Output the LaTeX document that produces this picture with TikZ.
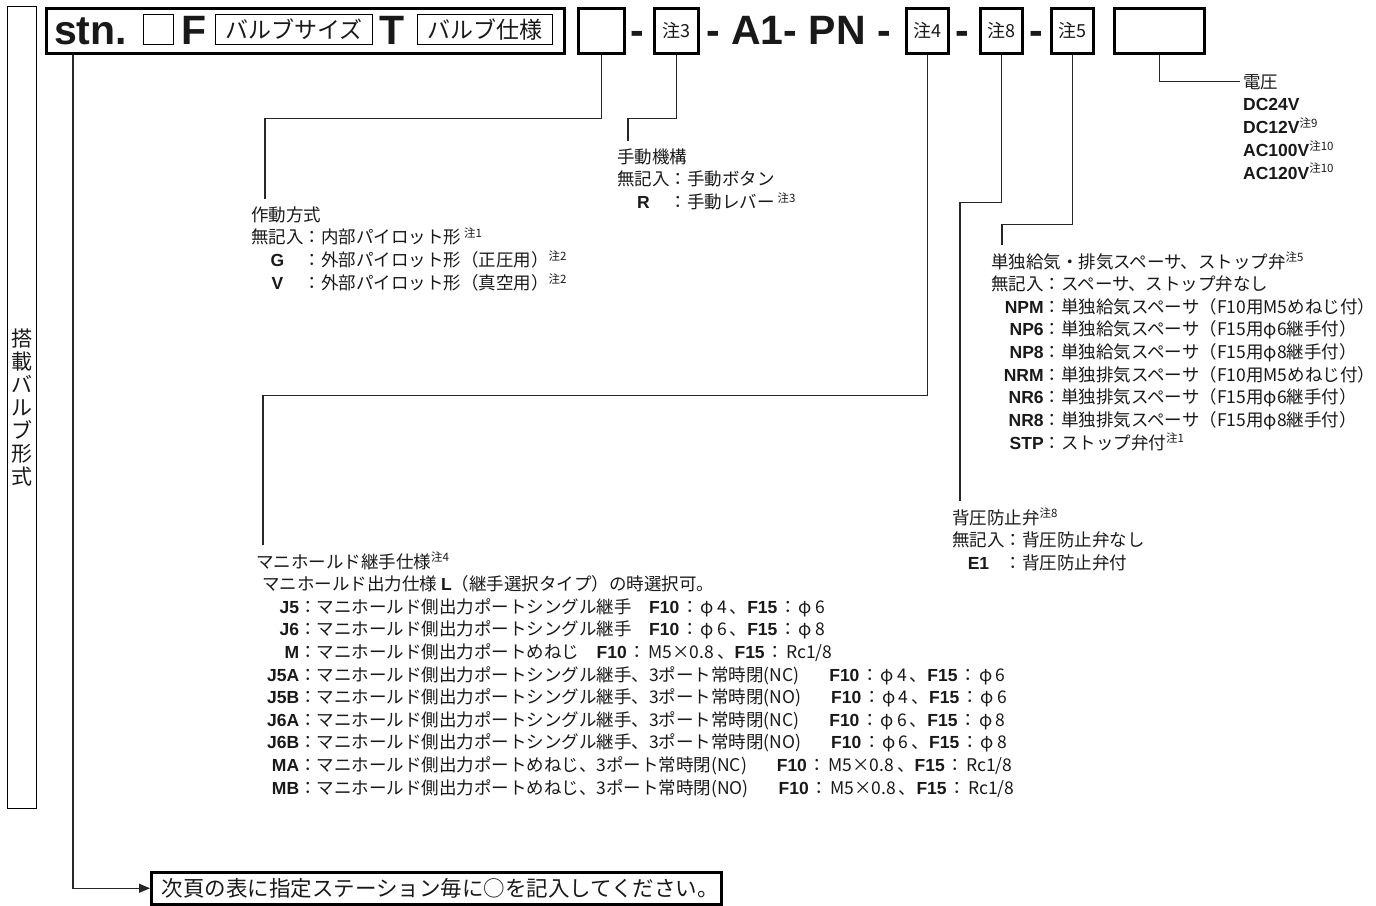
\documentclass[tikz,border=0pt]{standalone}
\usepackage{fontspec}
\setmainfont{Noto Sans CJK JP}
\newfontfamily\lat{Liberation Sans}
\usetikzlibrary{arrows.meta}

\newcommand\cd[1]{{\lat\bfseries #1}}
\newcommand\nt[1]{\raisebox{6.5pt}{\fontsize{11.5}{11.5}\selectfont 注#1}}
\newcommand\mc[1]{\makebox[37pt][r]{\cd{#1}}}
\newcommand\sz[3]{\cd{F10}\hspace{2pt}：\hspace{2pt}#1\hspace{3pt}、\cd{F15}\hspace{2pt}：\hspace{2pt}#2}

\begin{document}
\begin{tikzpicture}[x=1pt,y=-1pt,
  every node/.style={inner sep=0pt, text=black!90},
  lead/.style={draw=black!85, line width=1.1pt},
  hdrbox/.style={draw, line width=2.8pt, anchor=north west, minimum height=45pt},
  smallbox/.style={draw, line width=0.9pt, anchor=north west, minimum height=30pt, font=\fontsize{23}{23}\selectfont},
  bigtxt/.style={anchor=base west, font=\lat\bfseries\fontsize{41}{41}\selectfont},
  notebox/.style={hdrbox, font=\fontsize{18}{18}\selectfont},
  head/.style={anchor=base west, font=\fontsize{17.5}{22.6}\selectfont},
  body/.style={anchor=base west, font=\fontsize{17.5}{22.6}\selectfont},
]
\useasboundingbox (0,0) rectangle (1376,905);
% side label
\node[draw, line width=1.2pt, anchor=north west, minimum width=29pt, minimum height=802pt,
  align=center, font=\fontsize{21}{23}\selectfont] (side) at (7,6) {搭\\載\\バ\\ル\\ブ\\形\\式};
% order code
\node[hdrbox, minimum width=518pt] (hdr) at (45,7) {};
\node[bigtxt] (stn) at (54,44) {stn.};
\node[draw, line width=0.9pt, anchor=north west, minimum width=30pt, minimum height=30pt] (blank) at (143,14) {};
\node[bigtxt] (fsz) at (181,44) {F};
\node[smallbox, minimum width=157pt] (vsize) at (215,14) {バルブサイズ};
\node[bigtxt] (tsp) at (379,44) {T};
\node[smallbox, minimum width=135pt] (vspec) at (417,14) {バルブ仕様};
\node[hdrbox, minimum width=46pt] (sq) at (577,7) {};
\node[bigtxt, anchor=base] (d1) at (637,44) {-};
\node[notebox, minimum width=44pt] (n3) at (653,7) {注3};
\node[bigtxt] (pn) at (706,44) {- A1- PN -};
\node[notebox, minimum width=42pt] (n4) at (905,7) {注4};
\node[bigtxt, anchor=base] (d2) at (962,44) {-};
\node[notebox, minimum width=42pt] (n8) at (979,7) {注8};
\node[bigtxt, anchor=base] (d3) at (1036,44) {-};
\node[notebox, minimum width=42pt] (n5) at (1050,7) {注5};
\node[hdrbox, minimum width=90pt] (vbox) at (1113,7) {};
% voltage
\node[head] (volth) at (1243,88) {電圧};
\node[body] (voltl) at (1243,110.6) {\begin{tabular}[t]{@{}l@{}}
  \cd{DC24V}\\ \cd{DC12V}\nt9\\ \cd{AC100V}\nt{10}\\ \cd{AC120V}\nt{10}\end{tabular}};
% manual override
\node[head] (manh) at (617,163) {手動機構};
\node[body] (manl) at (617,185.6) {\begin{tabular}[t]{@{}c@{：}l@{}}
  無記入&手動ボタン\\ \cd{R}&手動レバー\,\nt3\end{tabular}};
% pilot type
\node[head] (acth) at (251,221) {作動方式};
\node[body] (actl) at (251,243.6) {\begin{tabular}[t]{@{}c@{：}l@{}}
  無記入&内部パイロット形\,\nt1\\
  \cd{G}&外部パイロット形（正圧用）\nt2\\
  \cd{V}&外部パイロット形（真空用）\nt2\end{tabular}};
% spacer
\node[head] (spch) at (991,268) {単独給気・排気スペーサ、ストップ弁\nt5};
\node[body] (spcl) at (991,290.6) {\begin{tabular}[t]{@{}r@{：}l@{}}
  無記入&スペーサ、ストップ弁なし\\
  \cd{NPM}&単独給気スペーサ（F10用M5めねじ付）\\
  \cd{NP6}&単独給気スペーサ（F15用φ6継手付）\\
  \cd{NP8}&単独給気スペーサ（F15用φ8継手付）\\
  \cd{NRM}&単独排気スペーサ（F10用M5めねじ付）\\
  \cd{NR6}&単独排気スペーサ（F15用φ6継手付）\\
  \cd{NR8}&単独排気スペーサ（F15用φ8継手付）\\
  \cd{STP}&ストップ弁付\nt1\end{tabular}};
% back pressure
\node[head] (bph) at (952,524) {背圧防止弁\nt8};
\node[body] (bpl) at (952,546.6) {\begin{tabular}[t]{@{}c@{：}l@{}}
  無記入&背圧防止弁なし\\ \cd{E1}&背圧防止弁付\end{tabular}};
% fittings
\node[head] (mfh) at (256,568) {マニホールド継手仕様\nt4};
\node[body] (mfl) at (262,590.6) {\begin{tabular}[t]{@{}r@{：}l@{}}
  \multicolumn{2}{@{}l@{}}{マニホールド出力仕様 \cd{L}（継手選択タイプ）の時選択可。}\\
  \mc{J5}&マニホールド側出力ポートシングル継手\hspace{1em}\sz{φ\,4}{φ\,6}{}\\
  \mc{J6}&マニホールド側出力ポートシングル継手\hspace{1em}\sz{φ\,6}{φ\,8}{}\\
  \mc{M}&マニホールド側出力ポートめねじ\hspace{1em}\sz{M5×0.8}{Rc1/8}{}\\
  \mc{J5A}&マニホールド側出力ポートシングル継手、3ポート常時閉(NC)\hspace{1.7em}\sz{φ\,4}{φ\,6}{}\\
  \mc{J5B}&マニホールド側出力ポートシングル継手、3ポート常時閉(NO)\hspace{1.7em}\sz{φ\,4}{φ\,6}{}\\
  \mc{J6A}&マニホールド側出力ポートシングル継手、3ポート常時閉(NC)\hspace{1.7em}\sz{φ\,6}{φ\,8}{}\\
  \mc{J6B}&マニホールド側出力ポートシングル継手、3ポート常時閉(NO)\hspace{1.7em}\sz{φ\,6}{φ\,8}{}\\
  \mc{MA}&マニホールド側出力ポートめねじ、3ポート常時閉(NC)\hspace{1.7em}\sz{M5×0.8}{Rc1/8}{}\\
  \mc{MB}&マニホールド側出力ポートめねじ、3ポート常時閉(NO)\hspace{1.7em}\sz{M5×0.8}{Rc1/8}{}\end{tabular}};
% next page box
\node[draw, line width=2.5pt, anchor=north west, minimum width=570pt, minimum height=32pt,
  font=\fontsize{21.5}{21.5}\selectfont] (nxt) at (150,871) {\hspace{8pt}次頁の表に指定ステーション毎に○を記入してください。};
% leaders
\draw[lead, -{Triangle[length=11pt,width=9pt]}] ([xshift=28pt]hdr.south west) |- (nxt.west);
\draw[lead] (sq.south) -- ++(0,64) -| ([xshift=14pt,yshift=7pt]acth.north west);
\draw[lead] (n3.south) -- ++(0,64) -| ([xshift=11pt,yshift=7pt]manh.north west);
\draw[lead] (n4.south) -- ++(0,341) -| ([xshift=7pt,yshift=7pt]mfh.north west);
\draw[lead] (n8.south) -- ++(0,148) -| ([xshift=8pt,yshift=7pt]bph.north west);
\draw[lead] (n5.south) -- ++(0,170) -| ([xshift=11pt,yshift=7pt]spch.north west);
\draw[lead] (vbox.south) |- ([xshift=-3pt]volth.west);
\end{tikzpicture}
\end{document}
